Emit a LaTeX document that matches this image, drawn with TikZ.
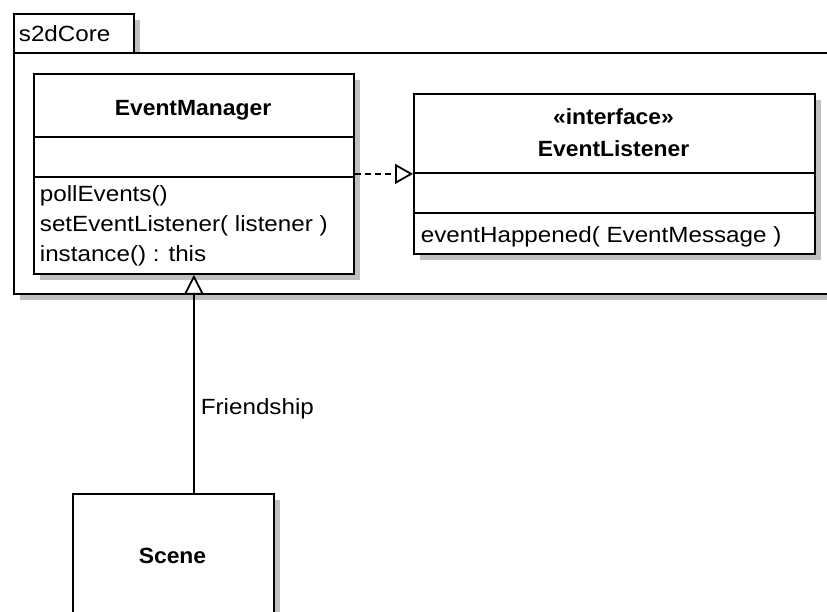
\documentclass[tikz,border=0pt]{standalone}
\usepackage{fontspec}
\setmainfont{Liberation Sans}[FakeStretch=1.1, BoldFeatures={FakeStretch=1.04}]
\usetikzlibrary{arrows.meta,shadows}
\definecolor{shadowgray}{RGB}{192,192,192}
\begin{document}
\begin{tikzpicture}[x=1pt,y=-1pt,line width=1.8pt,
  box/.style={draw=black,fill=white,rectangle,inner sep=0pt,anchor=north west,
    drop shadow={shadow xshift=6pt,shadow yshift=-6pt,fill=shadowgray,opacity=1}},
  txt/.style={inner sep=0pt,font=\fontsize{22}{26}\selectfont},
  btxt/.style={inner sep=0pt,font=\fontsize{22}{26}\selectfont\bfseries},
  sep/.style={line width=1.8pt}]
\useasboundingbox (0,0) rectangle (827,612);
\clip (0,0) rectangle (827,612);
\fill[white] (0,0) rectangle (827,612);
% package
\node[box,minimum width=120pt,minimum height=39pt] (tab) at (13,13) {};
\node[box,minimum width=900pt,minimum height=241pt] (pkg) at (13,52) {};
\node[txt,anchor=base west] (pkgname) at (18,42) {s2dCore};
% EventManager
\node[box,minimum width=320pt,minimum height=200pt] (em) at (33,73) {};
\draw[sep] ([yshift=-64pt]em.north west) -- ([yshift=-64pt]em.north east);
\draw[sep] ([yshift=-104pt]em.north west) -- ([yshift=-104pt]em.north east);
\node[btxt,anchor=base] (emname) at (193,116) {EventManager};
\node[txt,anchor=base west] (m1) at (39,202) {pollEvents()};
\node[txt,anchor=base west] (m2) at (39,232) {setEventListener( listener )};
\node[txt,anchor=base west] (m3) at (39,262) {instance() : this};
% EventListener
\node[box,minimum width=401pt,minimum height=160pt] (el) at (413,93) {};
\draw[sep] ([yshift=-80pt]el.north west) -- ([yshift=-80pt]el.north east);
\draw[sep] ([yshift=-120pt]el.north west) -- ([yshift=-120pt]el.north east);
\node[btxt,anchor=base] (elst) at (613.5,125) {«interface»};
\node[btxt,anchor=base] (elname) at (613.5,157) {EventListener};
\node[txt,anchor=base west] (el1) at (420,243) {eventHappened( EventMessage )};
% Scene
\node[box,minimum width=201pt,minimum height=250pt] (scene) at (72,493) {};
\node[btxt,anchor=base] (scname) at (172.5,563) {Scene};
% connectors
\draw[dash pattern=on 6pt off 4pt,-{Triangle[open,length=18pt,width=20pt]}] (em.east) -- (el.west);
\draw[-{Triangle[open,length=20pt,width=20pt]}] (em.south |- scene.north) -- (em.south);
\node[txt,anchor=base west] (fr) at (200,414) {Friendship};
\end{tikzpicture}
\end{document}
